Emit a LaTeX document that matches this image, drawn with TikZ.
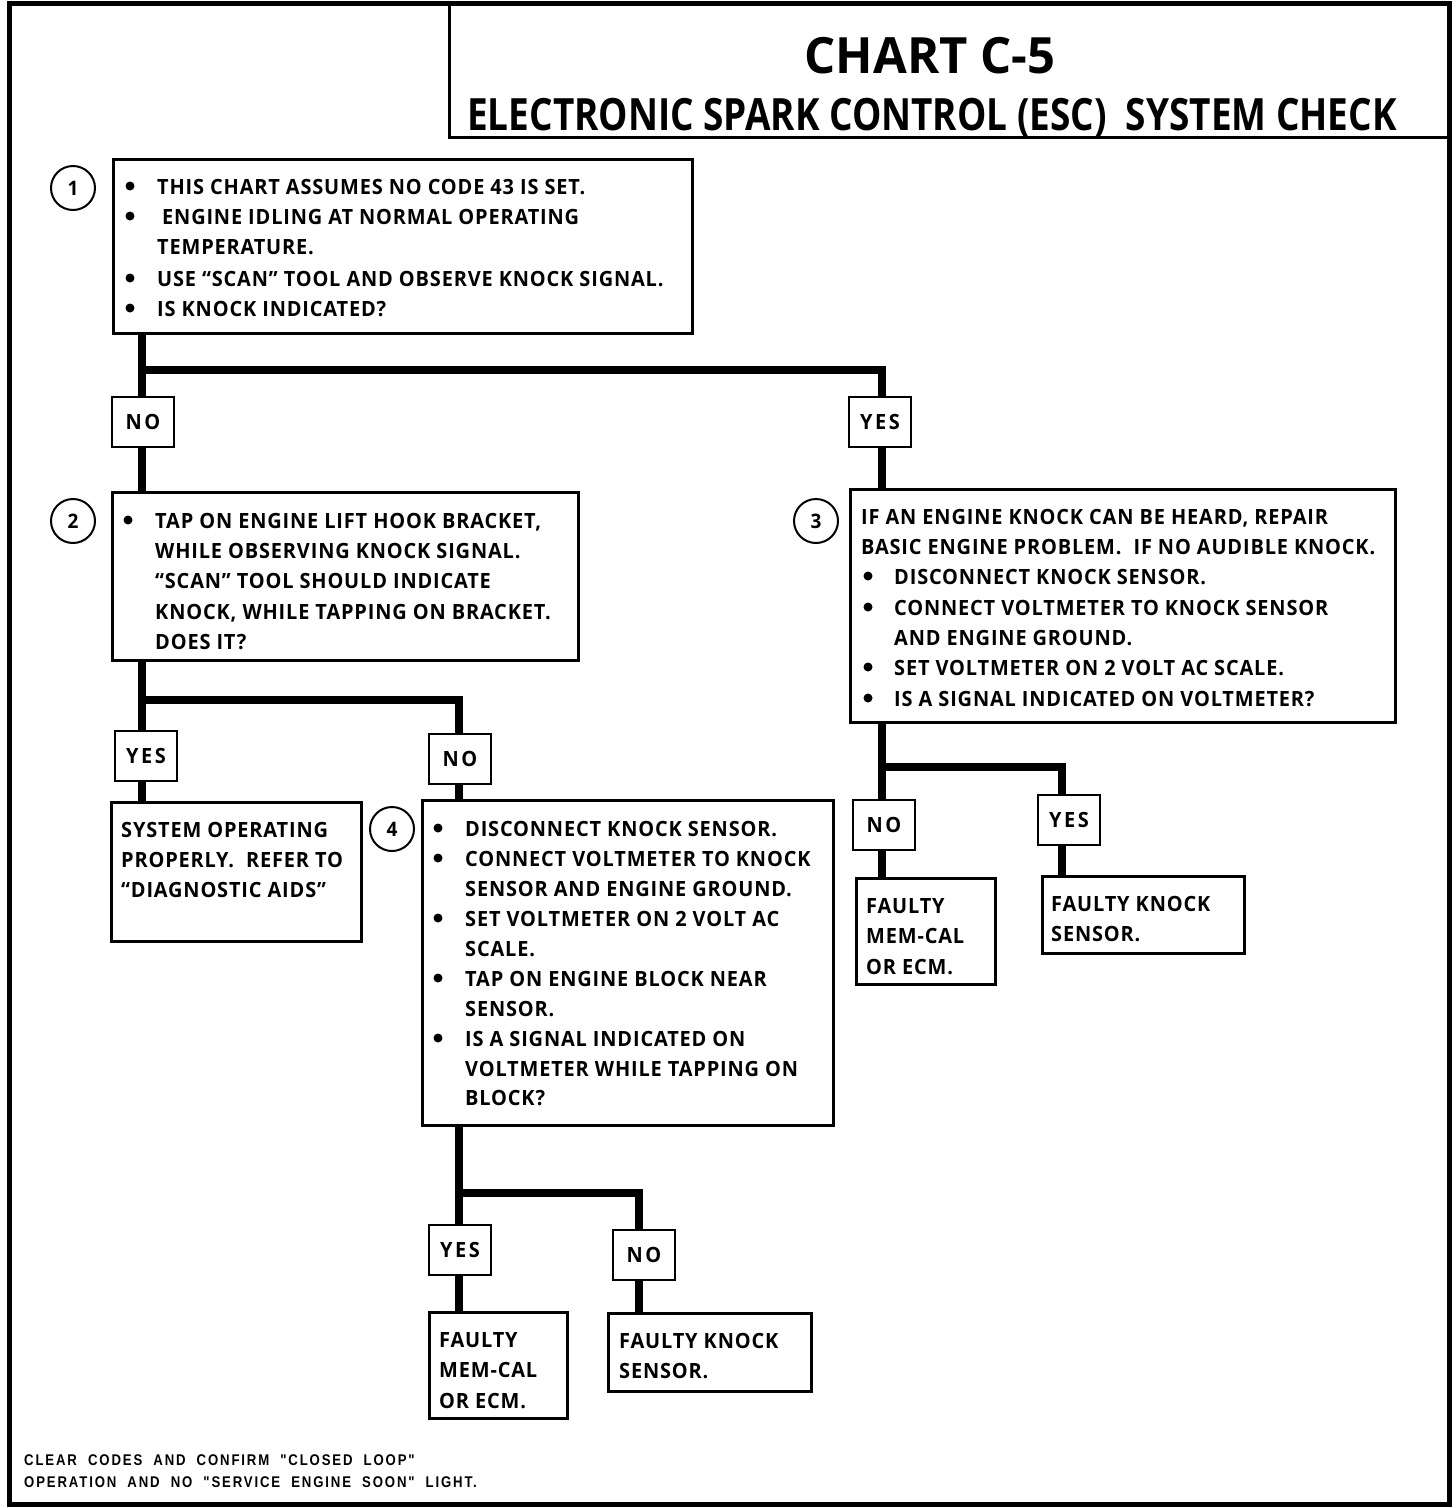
\documentclass[tikz,border=0pt]{standalone}
\usepackage{fontspec}
\newfontfamily\chartfont[FakeStretch=0.95,LetterSpace=4]{Open Sans}
\newfontfamily\ynfont[FakeStretch=0.95,LetterSpace=12]{Open Sans}
\newfontfamily\titlefont[FakeStretch=0.98]{Open Sans}
\newfontfamily\subtitlefont[FakeStretch=0.83]{Open Sans}
\newfontfamily\footfont[FakeStretch=0.85,LetterSpace=12]{Liberation Sans}
\newcommand{\bodyfnt}{\chartfont\bfseries\fontsize{21}{25}\selectfont}
\begin{document}
\begin{tikzpicture}[x=1pt,y=-1pt,
  box/.style={draw, line width=2.6pt, anchor=north west, inner sep=0pt},
  yn/.style={draw, line width=2.6pt, inner sep=0pt, minimum width=62pt, minimum height=50pt, font=\ynfont\bfseries\fontsize{21}{24}\selectfont},
  tl/.style={anchor=base west, inner sep=0pt, font=\bodyfnt},
  num/.style={draw, circle, line width=2pt, minimum size=44pt, inner sep=0pt, font=\chartfont\bfseries\fontsize{20}{22}\selectfont},
  conn/.style={line width=8pt},
  frame/.style={line width=5pt},
  bul/.style={circle, fill, inner sep=0pt, minimum size=9pt},
  foot/.style={anchor=base west, inner sep=0pt, font=\footfont\bfseries\fontsize{15.5}{18}\selectfont}]
\useasboundingbox (0,0) rectangle (1456,1508);
% outer frame and title box
\draw[frame] (9,3) -- (1449,3) -- (1449,1504) -- (9,1504) -- cycle;
\draw[line width=3pt] (449,3) -- (449,137.5) -- (1449,137.5);
\node[anchor=base, inner sep=0pt, font=\titlefont\bfseries\fontsize{50}{56}\selectfont] (title) at (930,73) {CHART C-5};
\node[anchor=base, inner sep=0pt, font=\subtitlefont\bfseries\fontsize{44.5}{50}\selectfont] (subtitle) at (932,130) {ELECTRONIC SPARK CONTROL (ESC)\ \ SYSTEM CHECK};

% ---------- Box 1
\node[box, minimum width=579pt, minimum height=174pt] (b1) at (112,158) {};
\node[num] (c1) at (73,188) {1};
\node[bul] (b1d1) at (130,186) {};
\node[bul] (b1d2) at (130,216) {};
\node[bul] (b1d3) at (130,278) {};
\node[bul] (b1d4) at (130,308) {};
\node[tl] (b1l1) at (157,194) {THIS CHART ASSUMES NO CODE 43 IS SET.};
\node[tl] (b1l2) at (162,224) {ENGINE IDLING AT NORMAL OPERATING};
\node[tl] (b1l3) at (157,254) {TEMPERATURE.};
\node[tl] (b1l4) at (157,286) {USE “SCAN” TOOL AND OBSERVE KNOCK SIGNAL.};
\node[tl] (b1l5) at (157,316) {IS KNOCK INDICATED?};

\node[yn] (no1) at (143,422) {NO};
\node[yn] (yes1) at (880,422) {YES};

% ---------- Box 2
\node[box, minimum width=466pt, minimum height=168pt] (b2) at (111,491) {};
\node[num] (c2) at (73,521) {2};
\node[bul] (b2d1) at (128,520) {};
\node[tl] (b2l1) at (155,528) {TAP ON ENGINE LIFT HOOK BRACKET,};
\node[tl] (b2l2) at (155,558) {WHILE OBSERVING KNOCK SIGNAL.};
\node[tl] (b2l3) at (155,588) {“SCAN” TOOL SHOULD INDICATE};
\node[tl] (b2l4) at (155,619) {KNOCK, WHILE TAPPING ON BRACKET.};
\node[tl] (b2l5) at (155,649) {DOES IT?};

\node[yn] (yes2) at (146,756) {YES};
\node[yn] (no2) at (460,759) {NO};

% ---------- System operating box
\node[box, minimum width=250pt, minimum height=139pt] (sop) at (110,801) {};
\node[tl] (sopl1) at (121,837) {SYSTEM OPERATING};
\node[tl] (sopl2) at (121,867) {PROPERLY.\ \ REFER TO};
\node[tl] (sopl3) at (121,897) {“DIAGNOSTIC AIDS”};

% ---------- Box 4
\node[box, minimum width=411pt, minimum height=325pt] (b4) at (421,799) {};
\node[num] (c4) at (392,829) {4};
\node[bul] (b4d1) at (438,828) {};
\node[bul] (b4d2) at (438,858) {};
\node[bul] (b4d3) at (438,918) {};
\node[bul] (b4d4) at (438,978) {};
\node[bul] (b4d5) at (438,1038) {};
\node[tl] (b4l1) at (465,836) {DISCONNECT KNOCK SENSOR.};
\node[tl] (b4l2) at (465,866) {CONNECT VOLTMETER TO KNOCK};
\node[tl] (b4l3) at (465,896) {SENSOR AND ENGINE GROUND.};
\node[tl] (b4l4) at (465,926) {SET VOLTMETER ON 2 VOLT AC};
\node[tl] (b4l5) at (465,956) {SCALE.};
\node[tl] (b4l6) at (465,986) {TAP ON ENGINE BLOCK NEAR};
\node[tl] (b4l7) at (465,1016) {SENSOR.};
\node[tl] (b4l8) at (465,1046) {IS A SIGNAL INDICATED ON};
\node[tl] (b4l9) at (465,1076) {VOLTMETER WHILE TAPPING ON};
\node[tl] (b4l10) at (465,1105) {BLOCK?};

\node[yn] (yes4) at (460,1250) {YES};
\node[yn] (no4) at (644,1255) {NO};

\node[box, minimum width=138pt, minimum height=106pt] (f4a) at (428,1311) {};
\node[tl] (f4al1) at (439,1347) {FAULTY};
\node[tl] (f4al2) at (439,1377) {MEM-CAL};
\node[tl] (f4al3) at (439,1408) {OR ECM.};
\node[box, minimum width=203pt, minimum height=78pt] (f4b) at (607,1312) {};
\node[tl] (f4bl1) at (619,1348) {FAULTY KNOCK};
\node[tl] (f4bl2) at (619,1378) {SENSOR.};

% ---------- Box 3
\node[box, minimum width=545pt, minimum height=233pt] (b3) at (849,488) {};
\node[num] (c3) at (816,521) {3};
\node[tl] (b3l1) at (861,524) {IF AN ENGINE KNOCK CAN BE HEARD, REPAIR};
\node[tl] (b3l2) at (861,554) {BASIC ENGINE PROBLEM.\ \ IF NO AUDIBLE KNOCK.};
\node[bul] (b3d1) at (868,576) {};
\node[bul] (b3d2) at (868,607) {};
\node[bul] (b3d3) at (868,667) {};
\node[bul] (b3d4) at (868,698) {};
\node[tl] (b3l3) at (894,584) {DISCONNECT KNOCK SENSOR.};
\node[tl] (b3l4) at (894,615) {CONNECT VOLTMETER TO KNOCK SENSOR};
\node[tl] (b3l5) at (894,645) {AND ENGINE GROUND.};
\node[tl] (b3l6) at (894,675) {SET VOLTMETER ON 2 VOLT AC SCALE.};
\node[tl] (b3l7) at (894,706) {IS A SIGNAL INDICATED ON VOLTMETER?};

\node[yn] (no3) at (884,825) {NO};
\node[yn] (yes3) at (1069,820) {YES};

\node[box, minimum width=139pt, minimum height=106pt] (f3a) at (855,877) {};
\node[tl] (f3al1) at (866,913) {FAULTY};
\node[tl] (f3al2) at (866,943) {MEM-CAL};
\node[tl] (f3al3) at (866,974) {OR ECM.};
\node[box, minimum width=202pt, minimum height=77pt] (f3b) at (1041,875) {};
\node[tl] (f3bl1) at (1051,911) {FAULTY KNOCK};
\node[tl] (f3bl2) at (1051,941) {SENSOR.};

% ---------- footer
\node[foot] (foot1) at (24,1465) {CLEAR\ \ CODES\ \ AND\ \ CONFIRM\ \ "CLOSED\ \ LOOP"};
\node[foot] (foot2) at (24,1487) {OPERATION\ \ AND\ \ NO\ \ "SERVICE\ \ ENGINE\ \ SOON"\ \ LIGHT.};

% ---------- connectors
\coordinate (j1) at (142,370);
\coordinate (j2) at (142,700);
\coordinate (j4) at (459,1193);
\coordinate (j3) at (882,767);
\draw[conn] (b1.south -| j1) -- (no1.north -| j1);
\draw[conn] (j1) -| (yes1.north -| 882,0);
\draw[conn] (no1.south -| j1) -- (b2.north -| j1);
\draw[conn] (yes1.south -| 882,0) -- (b3.north -| 882,0);
\draw[conn] (b2.south -| j2) -- (yes2.north -| j2);
\draw[conn] (j2) -| (no2.north -| 459,0);
\draw[conn] (yes2.south -| j2) -- (sop.north -| j2);
\draw[conn] (no2.south -| 459,0) -- (b4.north -| 459,0);
\draw[conn] (b4.south -| j4) -- (yes4.north -| j4);
\draw[conn] (j4) -| (no4.north -| 639,0);
\draw[conn] (yes4.south -| j4) -- (f4a.north -| j4);
\draw[conn] (no4.south -| 639,0) -- (f4b.north -| 639,0);
\draw[conn] (b3.south -| j3) -- (no3.north -| j3);
\draw[conn] (j3) -| (yes3.north -| 1062,0);
\draw[conn] (no3.south -| j3) -- (f3a.north -| j3);
\draw[conn] (yes3.south -| 1062,0) -- (f3b.north -| 1062,0);
\end{tikzpicture}
\end{document}
